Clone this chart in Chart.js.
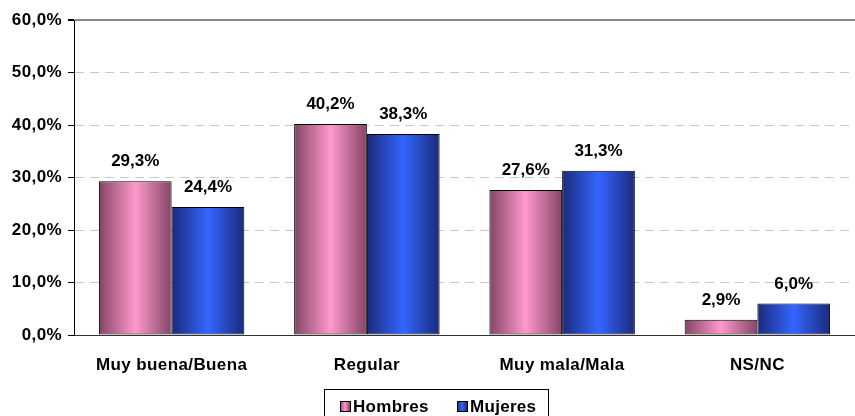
<!DOCTYPE html>
<html>
<head>
<meta charset="utf-8">
<script src="https://cdn.jsdelivr.net/npm/chart.js@4/dist/chart.umd.min.js"></script>
<style>
    html, body { margin: 0; padding: 0; background: #fff; }
    #wrap { width: 855px; height: 416px; position: relative; }
</style>
</head>
<body>
<div id="wrap"><canvas id="chart" width="855" height="416"></canvas></div>
<script>
// Chart data
const categories = ['Muy buena/Buena', 'Regular', 'Muy mala/Mala', 'NS/NC'];
const hombres = [29.3, 40.2, 27.6, 2.9];
const mujeres = [24.4, 38.3, 31.3, 6.0];
const seriesNames = ['Hombres', 'Mujeres'];
const yTicks = [0, 10, 20, 30, 40, 50, 60];

const FONT = { family: '"Liberation Sans", Arial, sans-serif', size: 17, weight: 'bold' };
const FONT_CSS = 'bold 17px "Liberation Sans", Arial, sans-serif';
const CAT_PCT = 0.745;

// edge / centre colours of the bar gradients
const palette = [
    { edge: '#844466', mid: '#ff99cc' },
    { edge: '#1b2a7a', mid: '#3366ff' }
];

function fmt(v) {
    return v.toFixed(1).replace('.', ',') + '%';
}

function barGradient(ctx) {
    const chart = ctx.chart;
    const p = palette[ctx.datasetIndex];
    const xs = chart.scales.x;
    if (!chart.chartArea || !xs || !xs.width) return p.mid;
    const c = xs.getPixelForValue(ctx.dataIndex);
    const w = xs.width / categories.length * CAT_PCT / 2;
    const left = ctx.datasetIndex === 0 ? c - w : c;
    const g = chart.ctx.createLinearGradient(left, 0, left + w, 0);
    g.addColorStop(0, p.edge);
    g.addColorStop(0.5, p.mid);
    g.addColorStop(1, p.edge);
    return g;
}

// slight letter spacing like the original export
const spacing = {
    id: 'spacing',
    beforeUpdate(chart) { chart.ctx.letterSpacing = '0.4px'; },
    beforeDraw(chart) { chart.ctx.letterSpacing = '0.4px'; }
};

// value labels above the bars
const valueLabels = {
    id: 'valueLabels',
    afterDatasetsDraw(chart) {
        const ctx = chart.ctx;
        ctx.save();
        ctx.letterSpacing = '0px';
        ctx.font = FONT_CSS;
        ctx.fillStyle = '#000';
        ctx.textAlign = 'center';
        ctx.textBaseline = 'alphabetic';
        chart.data.datasets.forEach((ds, i) => {
            chart.getDatasetMeta(i).data.forEach((bar, j) => {
                ctx.fillText(fmt(ds.data[j]), bar.x, bar.y - 15);
            });
        });
        ctx.restore();
    }
};

// boxed legend under the axis
const boxLegend = {
    id: 'boxLegend',
    afterDraw(chart) {
        const ctx = chart.ctx;
        ctx.save();
        ctx.strokeStyle = '#000';
        ctx.lineWidth = 1;
        ctx.strokeRect(324.5, 389.5, 224, 40);
        ctx.letterSpacing = '0.3px';
        ctx.font = FONT_CSS;
        ctx.textBaseline = 'alphabetic';
        ctx.textAlign = 'left';
        const xs = [340, 457];
        seriesNames.forEach((name, i) => {
            const x = xs[i];
            const g = ctx.createLinearGradient(x, 0, x + 10, 0);
            g.addColorStop(0, palette[i].edge);
            g.addColorStop(0.5, palette[i].mid);
            g.addColorStop(1, palette[i].edge);
            ctx.fillStyle = g;
            ctx.fillRect(x, 401, 10, 10);
            ctx.strokeRect(x + 0.5, 401.5, 10, 10);
            ctx.fillStyle = '#000';
            ctx.fillText(name, x + 13, 411.5);
        });
        ctx.restore();
    }
};

new Chart(document.getElementById('chart'), {
    type: 'bar',
    data: {
        labels: categories,
        datasets: [{
            label: seriesNames[0],
            data: hombres,
            backgroundColor: barGradient,
            borderColor: '#000',
            borderWidth: 1,
            borderSkipped: false
        }, {
            label: seriesNames[1],
            data: mujeres,
            backgroundColor: barGradient,
            borderColor: '#000',
            borderWidth: 1,
            borderSkipped: false
        }]
    },
    options: {
        responsive: false,
        animation: false,
        layout: { padding: { top: 20, right: 0, left: 0, bottom: 0 } },
        datasets: {
            bar: { categoryPercentage: CAT_PCT, barPercentage: 1 }
        },
        plugins: {
            legend: { display: false },
            tooltip: { enabled: false }
        },
        scales: {
            x: {
                grid: { display: false },
                border: { color: '#333', width: 1 },
                ticks: { color: '#000', font: FONT, padding: 12, maxRotation: 0 },
                afterFit(scale) { scale.height = 81; }
            },
            y: {
                min: 0,
                max: 60,
                afterBuildTicks(scale) {
                    scale.ticks = yTicks.map(v => ({ value: v }));
                },
                grid: {
                    color: c => c.tick && c.tick.value === 60 ? '#8a8a8a' : (c.tick && c.tick.value === 0 ? 'rgba(0,0,0,0)' : '#c8c8c8'),
                    lineWidth: c => c.tick && c.tick.value === 60 ? 2 : 1,
                    tickColor: '#000',
                    tickLength: 6,
                    tickBorderDash: []
                },
                border: {
                    color: '#000',
                    width: 1,
                    dash: c => c.tick && c.tick.value === 60 ? [] : [9, 6]
                },
                ticks: {
                    color: '#000',
                    font: FONT,
                    padding: 6,
                    callback: v => fmt(v)
                },
                afterFit(scale) { scale.width = 74; }
            }
        }
    },
    plugins: [spacing, valueLabels, boxLegend]
});
</script>
</body>
</html>
